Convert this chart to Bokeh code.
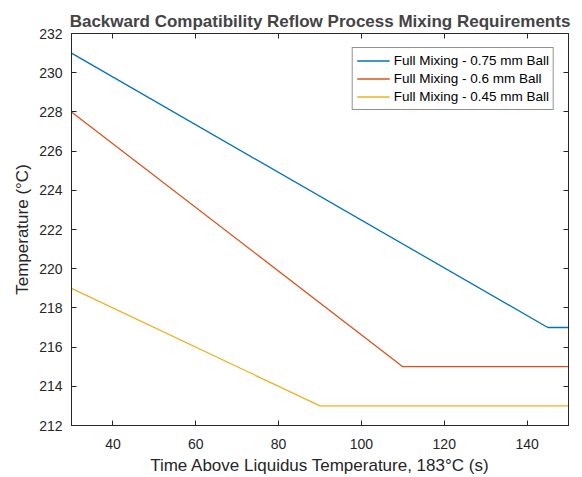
from bokeh.plotting import figure
from bokeh.models import LinearAxis, Range1d, FixedTicker, Legend, LegendItem, CustomJSTickFormatter
from bokeh.embed import file_html
from bokeh.resources import INLINE

# Data
x_075 = [30, 145, 150]
y_075 = [231, 217, 217]
x_06 = [30, 110, 150]
y_06 = [228, 215, 215]
x_045 = [30, 90, 150]
y_045 = [219, 213, 213]
labels = ["Full Mixing - 0.75 mm Ball", "Full Mixing - 0.6 mm Ball", "Full Mixing - 0.45 mm Ball"]
colors = ["#0072BD", "#D95319", "#EDB120"]
x_ticks = [40, 60, 80, 100, 120, 140]
y_ticks = list(range(212, 233, 2))

FONT = "Liberation Sans"

p = figure(frame_width=497, frame_height=392, output_backend="svg", toolbar_location=None,
           x_range=Range1d(30, 150), y_range=Range1d(212, 232),
           min_border_left=71, min_border_right=6, min_border_top=33, min_border_bottom=40,
           title="Backward Compatibility Reflow Process Mixing Requirements")
p.title.text_font = FONT
p.title.text_font_size = "17px"
p.title.text_font_style = "bold"
p.title.align = "center"
p.title.offset = 0
p.title.standoff = 5

p.grid.visible = False
p.outline_line_color = "#262626"
p.outline_line_width = 1

renderers = []
for xs, ys, c in [(x_075, y_075, colors[0]), (x_06, y_06, colors[1]), (x_045, y_045, colors[2])]:
    renderers.append(p.line(xs, ys, line_color=c, line_width=1.3))

def style_axis(ax, show_labels=True):
    ax.major_label_text_font = FONT
    ax.major_label_text_font_size = "14px"
    ax.major_label_text_color = "#262626"
    ax.axis_line_color = "#262626"
    ax.major_tick_line_color = "#262626"
    ax.major_tick_in = 5
    ax.major_tick_out = 0
    ax.minor_tick_line_color = None
    ax.axis_label_text_font = FONT
    ax.axis_label_text_font_size = "17px"
    ax.axis_label_text_font_style = "normal"
    ax.axis_label_text_color = "#262626"
    if not show_labels:
        ax.formatter = CustomJSTickFormatter(code="return '';")
        ax.major_label_standoff = 0

p.xaxis.ticker = FixedTicker(ticks=x_ticks)
p.yaxis.ticker = FixedTicker(ticks=y_ticks)
p.xaxis.axis_label = "Time Above Liquidus Temperature, 183°C (s)"
p.yaxis.axis_label = "Temperature (°C)"
style_axis(p.xaxis[0])
style_axis(p.yaxis[0])
p.xaxis.major_label_standoff = 13
p.yaxis.major_label_standoff = 9
p.xaxis.axis_label_standoff = 4
p.yaxis.axis_label_standoff = 4

top = LinearAxis(ticker=FixedTicker(ticks=x_ticks))
style_axis(top, False)
right = LinearAxis(ticker=FixedTicker(ticks=y_ticks))
style_axis(right, False)
p.add_layout(top, "above")
p.add_layout(right, "right")

legend = Legend(items=[LegendItem(label=l, renderers=[r]) for l, r in zip(labels, renderers)],
                location="top_right")
legend.label_text_font = FONT
legend.label_text_font_size = "13.5px"
legend.label_text_color = "#000000"
legend.border_line_color = "#262626"
legend.border_line_width = 1
legend.background_fill_alpha = 1
legend.glyph_width = 33
legend.glyph_height = 17
legend.label_height = 17
legend.spacing = 1
legend.padding = 4
legend.margin = 14
legend.label_standoff = 4
p.add_layout(legend, "center")

open("out.html", "w").write(file_html(p, INLINE))
